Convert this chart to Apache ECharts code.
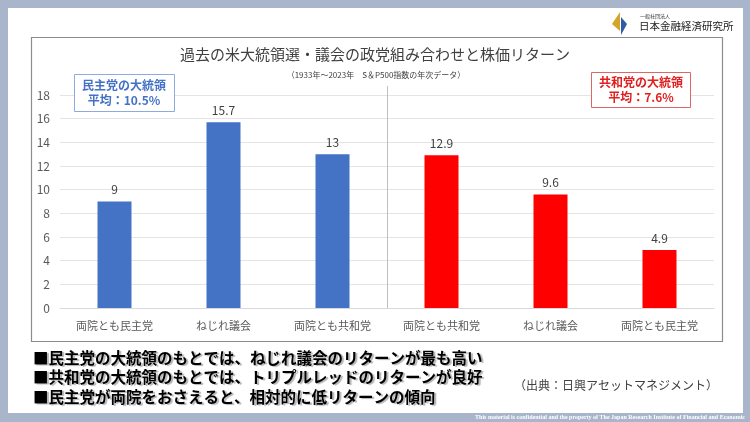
<!DOCTYPE html>
<html><head><meta charset="utf-8">
<script src="https://cdn.jsdelivr.net/npm/echarts@6/dist/echarts.min.js"></script>
<style>html,body{margin:0;padding:0;background:#A9B5CB;}#c{width:750px;height:422px;}</style>
</head><body><div id="c"></div>
<script>
const categories = ['両院とも民主党','ねじれ議会','両院とも共和党','両院とも共和党','ねじれ議会','両院とも民主党'];
const demValues = [9, 15.7, 13];
const repValues = [12.9, 9.6, 4.9];
const yTicks = [0, 2, 4, 6, 8, 10, 12, 14, 16, 18];
const titleText = '過去の米大統領選・議会の政党組み合わせと株価リターン';
const subtitleText = '（1933年～2023年　S＆P500指数の年次データ）';
const demBox = ['民主党の大統領', '平均：10.5%'];
const repBox = ['共和党の大統領', '平均：7.6%'];
const notes = ['■民主党の大統領のもとでは、ねじれ議会のリターンが最も高い','■共和党の大統領のもとでは、トリプルレッドのリターンが良好','■民主党が両院をおさえると、相対的に低リターンの傾向'];
const sourceText = '（出典：日興アセットマネジメント）';
const footerText = 'This material is confidential and the property of The Japan Research Institute of Financial and Economic';

const FONT = '"Noto Sans CJK JP", "Noto Sans", sans-serif';
const BLUE = '#4472C4', RED = '#FF0000';

const chart = echarts.init(document.getElementById('c'), null, {renderer: 'canvas'});
const data = demValues.map(v => ({value: v, itemStyle: {color: BLUE}}))
  .concat(repValues.map(v => ({value: v, itemStyle: {color: RED}})));

chart.setOption({
  backgroundColor: 'transparent',
  animation: false,
  textStyle: {fontFamily: FONT},
  grid: {left: 60, right: 36, top: 95, bottom: 114, containLabel: false},
  xAxis: {
    type: 'category', data: categories,
    axisLine: {show: true, lineStyle: {color: '#D9D9D9'}},
    axisTick: {show: false},
    axisLabel: {color: '#595959', fontSize: 11, margin: 12, fontFamily: FONT, interval: 0}
  },
  yAxis: {
    type: 'value', min: yTicks[0], max: yTicks[yTicks.length - 1], interval: yTicks[1] - yTicks[0],
    axisLine: {show: false}, axisTick: {show: false},
    axisLabel: {color: '#595959', fontSize: 12, margin: 10, fontFamily: FONT},
    splitLine: {lineStyle: {color: '#E4E4E4', width: 1}}
  },
  series: [{
    type: 'bar', data: data, barWidth: 34,
    label: {show: true, position: 'top', distance: 6, color: '#404040', fontSize: 12, fontFamily: FONT}
  }]
});

const x2 = chart.convertToPixel({xAxisIndex: 0}, 2);
const x3 = chart.convertToPixel({xAxisIndex: 0}, 3);
const divX = Math.round((x2 + x3) / 2) + 0.5;
const y0 = chart.convertToPixel({yAxisIndex: 0}, 0);

const g = [
  {type: 'rect', z: -100, shape: {x: 8, y: 8, width: 735, height: 405}, style: {fill: '#FFFFFF'}},
  {type: 'rect', z: -90, shape: {x: 31.5, y: 37.5, width: 691, height: 304}, style: {fill: 'none', stroke: '#8C8C8C', lineWidth: 1.2}},
  {type: 'line', z: 5, shape: {x1: divX, y1: 86, x2: divX, y2: y0}, style: {stroke: '#BFBFBF', lineWidth: 1}},
  {type: 'text', z: 10, x: 375, y: 54, style: {text: titleText, fill: '#404040', font: '15px ' + FONT, textAlign: 'center', textVerticalAlign: 'middle'}},
  {type: 'text', z: 10, x: 376, y: 75, style: {text: subtitleText, fill: '#404040', font: '8px ' + FONT, textAlign: 'center', textVerticalAlign: 'middle'}},
  {type: 'rect', z: 10, shape: {x: 74.5, y: 74.5, width: 100, height: 37}, style: {fill: '#FFFFFF', stroke: '#8FAADC', lineWidth: 1}},
  {type: 'text', z: 11, x: 124, y: 85, style: {text: demBox[0], fill: BLUE, font: 'bold 12px ' + FONT, textAlign: 'center', textVerticalAlign: 'middle'}},
  {type: 'text', z: 11, x: 124, y: 100, style: {text: demBox[1], fill: BLUE, font: 'bold 12px ' + FONT, textAlign: 'center', textVerticalAlign: 'middle'}},
  {type: 'rect', z: 10, shape: {x: 591.5, y: 72.5, width: 99, height: 35}, style: {fill: '#FFFFFF', stroke: '#E06666', lineWidth: 1}},
  {type: 'text', z: 11, x: 641, y: 82, style: {text: repBox[0], fill: '#E02020', font: 'bold 12px ' + FONT, textAlign: 'center', textVerticalAlign: 'middle'}},
  {type: 'text', z: 11, x: 641, y: 97, style: {text: repBox[1], fill: '#E02020', font: 'bold 12px ' + FONT, textAlign: 'center', textVerticalAlign: 'middle'}},
  {type: 'text', z: 10, x: 718, y: 385, style: {text: sourceText, fill: '#404040', font: '12px ' + FONT, textAlign: 'right', textVerticalAlign: 'middle'}},
  {type: 'text', z: 10, x: 745, y: 417.5, style: {text: footerText, fill: '#FFFFFF', font: 'bold 6px "Liberation Serif", serif', textAlign: 'right', textVerticalAlign: 'middle'}},
  {type: 'polygon', z: 10, shape: {points: [[612, 24], [620, 12], [620, 31]]}, style: {fill: '#D4A52A'}},
  {type: 'polygon', z: 10, shape: {points: [[621, 17], [627, 24], [621, 35]]}, style: {fill: '#2E5DA8'}},
  {type: 'text', z: 10, x: 640, y: 16, style: {text: '一般社団法人', fill: '#333333', font: '5px ' + FONT, textAlign: 'left', textVerticalAlign: 'middle'}},
  {type: 'text', z: 10, x: 639, y: 26, style: {text: '日本金融経済研究所', fill: '#222222', font: '10.5px ' + FONT, textAlign: 'left', textVerticalAlign: 'middle'}}
];
notes.forEach((t, i) => {
  g.push({type: 'text', z: 10, x: 33, y: 358 + i * 19.5, style: {
    text: t, fill: '#000000', font: 'bold 15.5px ' + FONT, textAlign: 'left', textVerticalAlign: 'middle',
    textShadowColor: 'rgba(0,0,0,0.3)', textShadowOffsetX: 2, textShadowOffsetY: 1, textShadowBlur: 1}});
});
chart.setOption({graphic: g});
</script></body></html>
